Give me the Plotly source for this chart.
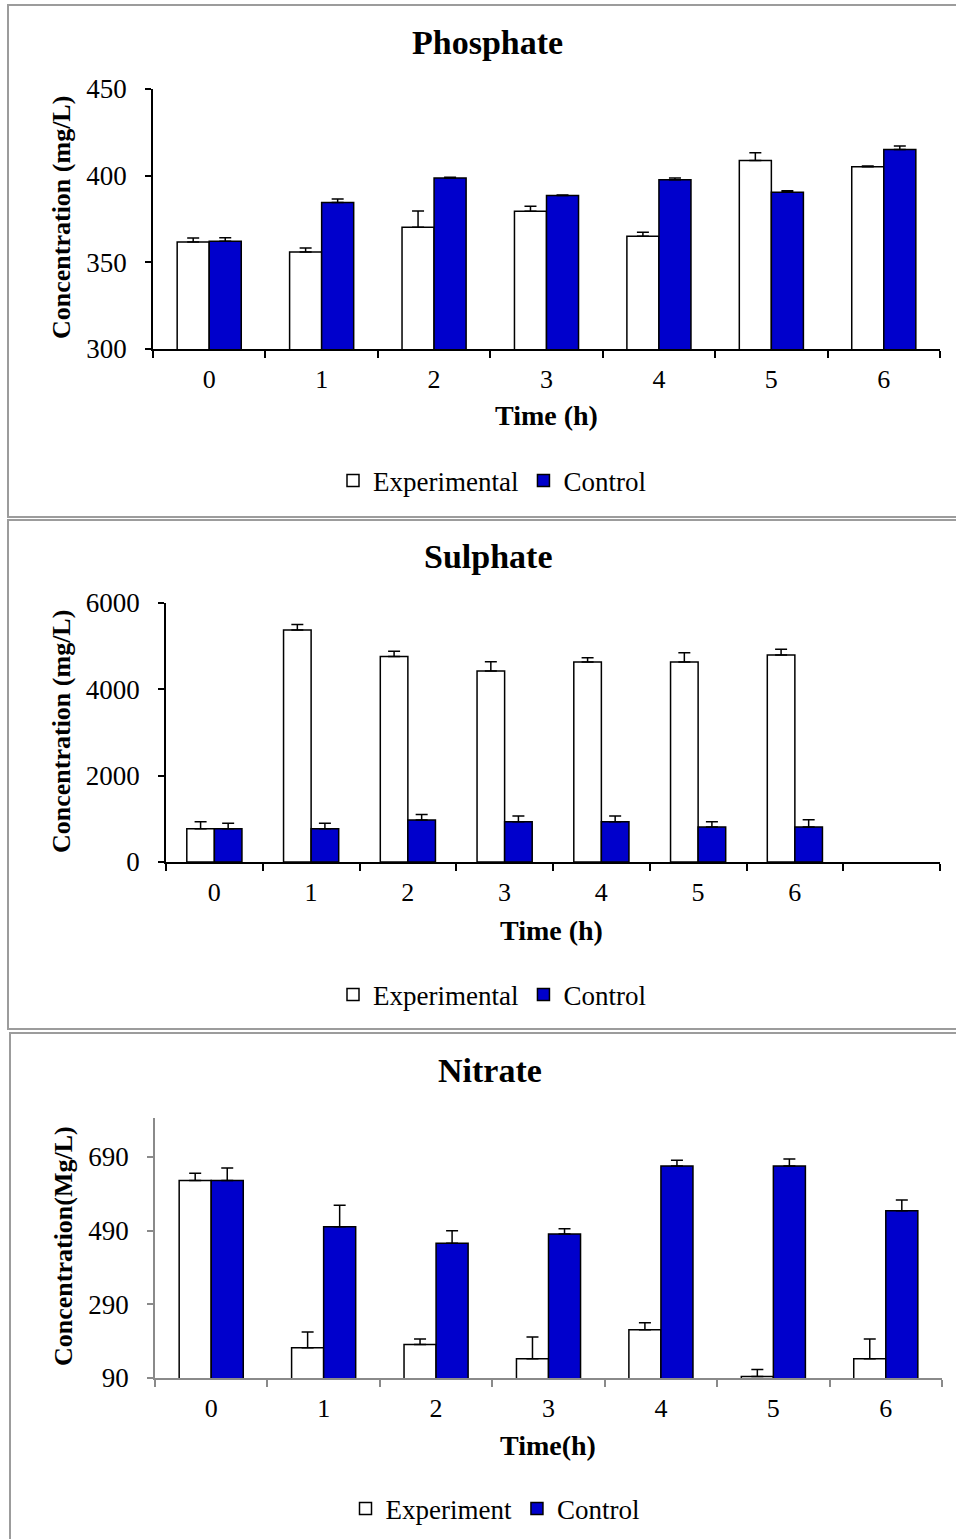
import plotly.graph_objects as go

W, H = 956, 1539

# Sampling times (h)
hours = [0, 1, 2, 3, 4, 5, 6]
hour_labels = ["0", "1", "2", "3", "4", "5", "6"]

# Phosphate (mg/L)
phos_exp = [361.8, 355.9, 370.2, 379.4, 365.1, 408.8, 405.2]
phos_exp_err = [2.3, 2.3, 9.4, 3.0, 2.3, 4.4, 0.4]
phos_ctrl = [362.2, 384.5, 398.7, 388.5, 397.7, 390.5, 415.1]
phos_ctrl_err = [2.0, 2.0, 0.4, 0.4, 1.0, 0.8, 2.0]

# Sulphate (mg/L)
sulph_exp = [771, 5375, 4758, 4427, 4635, 4635, 4797]
sulph_exp_err = [160, 125, 125, 210, 95, 210, 130]
sulph_ctrl = [771, 771, 972, 933, 933, 810, 810]
sulph_ctrl_err = [125, 125, 130, 130, 130, 125, 170]

# Nitrate (mg/L)
nit_exp = [626, 172, 181, 142, 221, 94, 142]
nit_exp_err = [20, 43, 15, 59, 19, 19, 54]
nit_ctrl = [626, 501, 456, 481, 666, 666, 544]
nit_ctrl_err = [34, 58, 34, 14, 15, 19, 29]

phos_ticks = [300, 350, 400, 450]
sulph_ticks = [0, 2000, 4000, 6000]
nit_ticks = [90, 290, 490, 690]

FONT = "Liberation Serif, Times New Roman, serif"
BLUE = "#0000CC"


def fx(px):
    return px / W


def fy(py):
    return 1 - py / H


panels = [
    dict(title="Phosphate", ytitle="Concentration (mg/L)", xtitle="Time (h)",
         exp=phos_exp, exp_err=phos_exp_err, ctrl=phos_ctrl, ctrl_err=phos_ctrl_err,
         exp_name="Experimental", yticks=phos_ticks, yrange=[300, 450], nslots=7,
         box=(153, 940, 89, 349), axcolor="black",
         title_xy=(487, 42), ytitle_xy=(61, 218), xtitle_xy=(546, 415), legend_xy=(492, 481),
         frame=(8, 5, 960, 517)),
    dict(title="Sulphate", ytitle="Concentration (mg/L)", xtitle="Time (h)",
         exp=sulph_exp, exp_err=sulph_exp_err, ctrl=sulph_ctrl, ctrl_err=sulph_ctrl_err,
         exp_name="Experimental", yticks=sulph_ticks, yrange=[0, 6000], nslots=8,
         box=(166, 940, 603, 862), axcolor="black",
         title_xy=(488, 556), ytitle_xy=(61, 732), xtitle_xy=(551, 930), legend_xy=(492, 995),
         frame=(8, 520, 960, 1029)),
    dict(title="Nitrate", ytitle="Concentration(Mg/L)", xtitle="Time(h)",
         exp=nit_exp, exp_err=nit_exp_err, ctrl=nit_ctrl, ctrl_err=nit_ctrl_err,
         exp_name="Experiment", yticks=nit_ticks, yrange=[90, 796], nslots=7,
         box=(155, 942, 1118, 1378), axcolor="#8a8a8a",
         title_xy=(490, 1070), ytitle_xy=(63, 1246), xtitle_xy=(548, 1445), legend_xy=(495, 1509),
         frame=(10, 1033, 960, 1545)),
]

fig = go.Figure()
layout = dict(
    width=W, height=H, margin=dict(l=0, r=0, t=0, b=0, autoexpand=False),
    paper_bgcolor="white", plot_bgcolor="white",
    barmode="group", bargap=0.43, bargroupgap=0,
    font=dict(family=FONT, color="black"),
    annotations=[], shapes=[],
)

for i, p in enumerate(panels, start=1):
    sfx = "" if i == 1 else str(i)
    xa, ya = "x" + sfx, "y" + sfx
    leg = "legend" + sfx
    for name, vals, errs, fill in [
        (p["exp_name"], p["exp"], p["exp_err"], "white"),
        ("Control", p["ctrl"], p["ctrl_err"], BLUE),
    ]:
        fig.add_trace(go.Bar(
            x=hours, y=vals, name=name, xaxis=xa, yaxis=ya, legend=leg,
            marker=dict(color=fill, line=dict(color="black", width=1.5)),
            error_y=dict(type="data", symmetric=False, array=errs,
                         arrayminus=[0] * len(errs), color="black",
                         thickness=1.5, width=6),
        ))

    x0, x1, y0, y1 = p["box"]
    n = p["nslots"]
    layout["xaxis" + sfx] = dict(
        domain=[fx(x0), fx(x1)], anchor=ya, range=[-0.5, n - 0.5],
        tickmode="array", tickvals=hours, ticktext=hour_labels, ticks="",
        minor=dict(tickmode="array", tickvals=[k - 0.5 for k in range(n + 1)],
                   ticks="outside", ticklen=7, tickwidth=1.5, tickcolor=p["axcolor"],
                   showgrid=False),
        showline=True, linecolor=p["axcolor"], linewidth=1.5,
        showgrid=False, zeroline=False, ticklabelstandoff=6,
        tickfont=dict(size=26, family=FONT, color="black"),
        fixedrange=True,
    )
    layout["yaxis" + sfx] = dict(
        domain=[fy(y1), fy(y0)], anchor=xa, range=p["yrange"],
        tickmode="array", tickvals=p["yticks"], ticks="outside", ticklen=6,
        tickwidth=1.5, tickcolor=p["axcolor"],
        showline=True, linecolor=p["axcolor"], linewidth=1.5,
        showgrid=False, zeroline=False, ticklabelstandoff=13,
        tickfont=dict(size=27, family=FONT, color="black"),
        fixedrange=True,
    )
    lx, ly = p["legend_xy"]
    layout[leg] = dict(
        orientation="h", x=fx(lx), xanchor="center", y=fy(ly), yanchor="middle",
        font=dict(size=27, family=FONT, color="black"), bgcolor="rgba(0,0,0,0)",
        itemclick=False, itemdoubleclick=False, tracegroupgap=0,
    )
    layout["annotations"] += [
        dict(text="<b>%s</b>" % p["title"], x=fx(p["title_xy"][0]), y=fy(p["title_xy"][1]),
             xref="paper", yref="paper", xanchor="center", yanchor="middle",
             showarrow=False, font=dict(size=34, family=FONT)),
        dict(text="<b>%s</b>" % p["xtitle"], x=fx(p["xtitle_xy"][0]), y=fy(p["xtitle_xy"][1]),
             xref="paper", yref="paper", xanchor="center", yanchor="middle",
             showarrow=False, font=dict(size=28, family=FONT)),
        dict(text="<b>%s</b>" % p["ytitle"], x=fx(p["ytitle_xy"][0]), y=fy(p["ytitle_xy"][1]),
             xref="paper", yref="paper", xanchor="center", yanchor="middle",
             textangle=-90, showarrow=False, font=dict(size=26, family=FONT)),
    ]
    fx0, fy0, fx1, fy1 = p["frame"]
    layout["shapes"].append(dict(
        type="rect", xref="paper", yref="paper",
        x0=fx(fx0), x1=fx(fx1), y0=fy(fy0), y1=fy(fy1),
        line=dict(color="#9c9c9c", width=2), fillcolor="rgba(0,0,0,0)", layer="below",
    ))

fig.update_layout(**layout)
fig.write_html("out.html")
